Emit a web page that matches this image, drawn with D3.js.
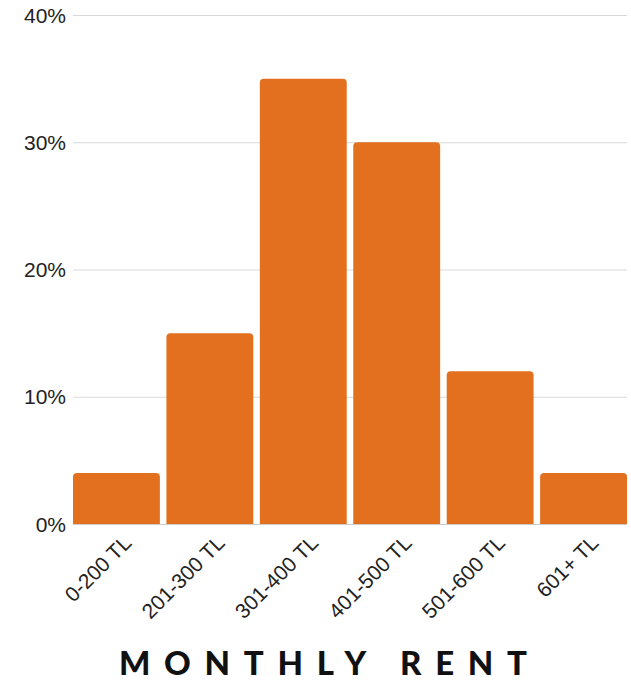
<!DOCTYPE html>
<html>
<head>
<meta charset="utf-8">
<script src="https://cdn.jsdelivr.net/npm/d3@7"></script>
<style>
  html, body { margin: 0; padding: 0; background: #fff; }
  svg { display: block; }
</style>
</head>
<body>
<svg id="chart" width="631" height="683"></svg>
<script>
const categories = ["0-200 TL", "201-300 TL", "301-400 TL", "401-500 TL", "501-600 TL", "601+ TL"];
const values = [4, 15, 35, 30, 12, 4];
const yTicks = [0, 10, 20, 30, 40];
const axisTitle = "MONTHLY RENT";

(function () {
const svg = d3.select("#chart");
const mLeft = 73, mRight = 627, mTop = 15, mBottom = 524;

const x = d3.scaleBand().domain(categories).range([mLeft, mRight]).paddingInner(0.07).paddingOuter(0);
const y = d3.scaleLinear().domain([0, 40]).range([mBottom, mTop]);

// gridlines
svg.append("g").selectAll("line").data(yTicks).join("line")
  .attr("x1", mLeft).attr("x2", mRight)
  .attr("y1", d => y(d) + 0.5).attr("y2", d => y(d) + 0.5)
  .attr("stroke", d => d === 0 ? "#cccccc" : "#d9d9d9").attr("stroke-width", 1);

// y labels
svg.append("g").selectAll("text").data(yTicks).join("text")
  .attr("x", 66).attr("y", d => y(d)).attr("dy", "0.36em")
  .attr("text-anchor", "end")
  .attr("font-family", "Liberation Sans, Arial, sans-serif")
  .attr("font-size", 21).attr("fill", "#222")
  .text(d => d + "%");

// bars with rounded top corners
const r = 4;
svg.append("g").selectAll("path").data(values).join("path")
  .attr("fill", "#e3701f")
  .attr("d", (d, i) => {
    const x0 = x(categories[i]), w = x.bandwidth();
    const yt = y(d), yb = y(0);
    return `M${x0},${yb}V${yt + r}Q${x0},${yt} ${x0 + r},${yt}H${x0 + w - r}Q${x0 + w},${yt} ${x0 + w},${yt + r}V${yb}Z`;
  });

// x labels
svg.append("g").selectAll("text").data(categories).join("text")
  .attr("transform", d => `translate(${x(d) + x.bandwidth() / 2 + 11},${mBottom + 15}) rotate(-45)`)
  .attr("text-anchor", "end")
  .attr("dy", "0.35em")
  .attr("font-family", "Liberation Sans, Arial, sans-serif")
  .attr("font-size", 21).attr("fill", "#222")
  .text(d => d);

// axis title
const title = svg.append("text")
  .attr("x", 119).attr("y", 675)
  .attr("font-family", "Lato, sans-serif").attr("font-weight", 900)
  .attr("font-size", 33).attr("fill", "#111")
  .text(axisTitle);
const natural = title.node().getComputedTextLength();
const n = axisTitle.length;
title.attr("letter-spacing", (408 - natural) / (n - 1));
})();
</script>
</body>
</html>
